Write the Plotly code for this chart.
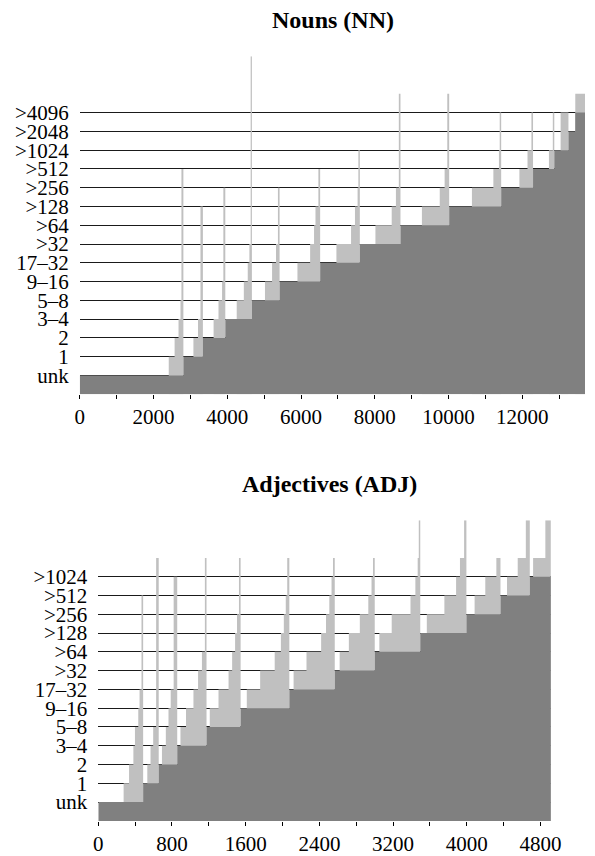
import plotly.graph_objects as go

# ---------------- data ----------------
# frequency-bin labels (y categories)
nn_levels = ["unk", "1", "2", "3–4", "5–8", "9–16", "17–32", ">32", ">64",
             ">128", ">256", ">512", ">1024", ">2048", ">4096"]
adj_levels = nn_levels[:13]

# Nouns: x where the dark staircase rises to bin k, and the end of the data
nn_dark_start = [0, 2810, 3339, 3947, 4668, 5419, 6519, 7595, 8697, 10018,
                 11428, 12292, 12868, 13252, 13437]
nn_end = 13701
# light staircase inside each bin: x where it rises to bin k+1, k+2, ... (last = thin spike)
nn_light_starts = [
    [2413, 2572, 2678, 2731, 2757],
    [3082, 3207, 3273],
    [3629, 3762, 3859, 3894],
    [4256, 4449, 4555, 4600, 4634],
    [5022, 5215, 5321, 5374],
    [5903, 6247, 6353, 6392, 6471],
    [6960, 7357, 7463, 7534, 7555],
    [8018, 8459, 8573, 8652],
    [9278, 9762, 9894, 9966],
    [10634, 11216, 11367, 11388],
    [11922, 12142, 12248],
    [12723, 12828],
    [13040],
    [],
    [13437],
]
# highest bin reached by the spike of each bin
nn_light_top = [11, 9, 10, 17, 10, 11, 12, 15, 15, 14, 14, 14, 14, 13, 15]

# Adjectives
adj_dark_start = [0, 487, 656, 857, 1175, 1545, 2074, 2567, 3001, 3495,
                  3996, 4366, 4684]
adj_end = 4913
adj_light_starts = [
    [275, 334, 381, 398, 434, 448, 469],
    [532, 567, 596, 628],
    [691, 733, 762, 786, 818],
    [892, 952, 1033, 1083, 1125, 1157],
    [1210, 1305, 1414, 1453, 1485, 1506, 1527],
    [1612, 1757, 1915, 1982, 2014, 2035, 2051],
    [2120, 2260, 2419, 2472, 2508, 2532, 2548],
    [2620, 2720, 2839, 2931, 2966, 2982],
    [3051, 3185, 3389, 3442, 3467, 3479],
    [3566, 3757, 3884, 3926, 3971],
    [4085, 4201, 4321],
    [4437, 4553, 4641],
    [4720, 4853],
]
adj_light_top = [11, 13, 12, 13, 13, 13, 13, 13, 15, 15, 13, 15, 15]

nn_xticks = list(range(0, 12001, 2000))
adj_xticks = list(range(0, 4801, 800))

LIGHT = "#c0c0c0"
DARK = "#808080"
FONT = "Liberation Serif"

fig = go.Figure()


def add_chart(dark_start, end, light_starts, light_top, xa, ya):
    n = len(dark_start)
    # light staircases (y shifted by +1 so the axis baseline is 0)
    for k in range(n):
        starts = light_starts[k]
        if not starts:
            continue
        bin_end = dark_start[k + 1] if k + 1 < n else end
        xs, ys = [], []
        for j, s in enumerate(starts):
            lvl = k + 1 + j if j < len(starts) - 1 else light_top[k]
            xs.append(s)
            ys.append(lvl + 1)
        xs.append(bin_end)
        ys.append(ys[-1])
        fig.add_trace(go.Scatter(
            x=xs, y=ys, mode="lines", line=dict(width=0, shape="hv", color=LIGHT),
            fill="tozeroy", fillcolor=LIGHT, xaxis=xa, yaxis=ya,
            hoverinfo="skip", showlegend=False))
    # dark staircase
    xs = list(dark_start) + [end]
    ys = [k + 1 for k in range(n)] + [n]
    fig.add_trace(go.Scatter(
        x=xs, y=ys, mode="lines", line=dict(width=0, shape="hv", color=DARK),
        fill="tozeroy", fillcolor=DARK, xaxis=xa, yaxis=ya,
        hoverinfo="skip", showlegend=False))


add_chart(nn_dark_start, nn_end, nn_light_starts, nn_light_top, "x", "y")
add_chart(adj_dark_start, adj_end, adj_light_starts, adj_light_top, "x2", "y2")

W, H = 595, 856


def px_x(p):
    return p / W


def px_y(p):
    return 1 - p / H


tickfont = dict(family=FONT, size=21, color="black")

xcommon = dict(showgrid=False, zeroline=False, showline=False, ticks="outside",
               ticklen=4, tickwidth=1, tickcolor="black", tickfont=tickfont,
               fixedrange=True)
ycommon = dict(showgrid=True, gridcolor="#1a1a1a", gridwidth=1, zeroline=False,
               showline=False, ticks="", tickfont=tickfont, ticklabelstandoff=10,
               fixedrange=True)

fig.update_layout(
    width=W, height=H, margin=dict(l=0, r=0, t=0, b=0),
    paper_bgcolor="white", plot_bgcolor="white", showlegend=False,
    xaxis=dict(domain=[px_x(76.7), 1.0], range=[0, nn_end], anchor="y",
               tickvals=nn_xticks, ticktext=[str(v) for v in nn_xticks],
               minor=dict(dtick=1000, tick0=0, ticks="outside", ticklen=4,
                          tickcolor="black", showgrid=False),
               **xcommon),
    yaxis=dict(domain=[px_y(397), px_y(56.7)], range=[0, 18], anchor="x",
               tickvals=[i + 1 for i in range(len(nn_levels))],
               ticktext=nn_levels, **ycommon),
    xaxis2=dict(domain=[px_x(95.7), px_x(560)], range=[0, adj_end], anchor="y2",
                tickvals=adj_xticks, ticktext=[str(v) for v in adj_xticks],
                minor=dict(dtick=400, tick0=0, ticks="outside", ticklen=4,
                           tickcolor="black", showgrid=False),
                **xcommon),
    yaxis2=dict(domain=[px_y(826.7), px_y(524)], range=[0, 16], anchor="x2",
                tickvals=[i + 1 for i in range(len(adj_levels))],
                ticktext=adj_levels, **ycommon),
    annotations=[
        dict(text="<b>Nouns (NN)</b>", x=px_x(336), y=px_y(20), xref="paper",
             yref="paper", showarrow=False, xanchor="center", yanchor="middle",
             font=dict(family=FONT, size=24, color="black")),
        dict(text="<b>Adjectives (ADJ)</b>", x=px_x(333), y=px_y(487),
             xref="paper", yref="paper", showarrow=False, xanchor="center",
             yanchor="middle", font=dict(family=FONT, size=24, color="black")),
    ],
)

fig.write_html("out.html")
